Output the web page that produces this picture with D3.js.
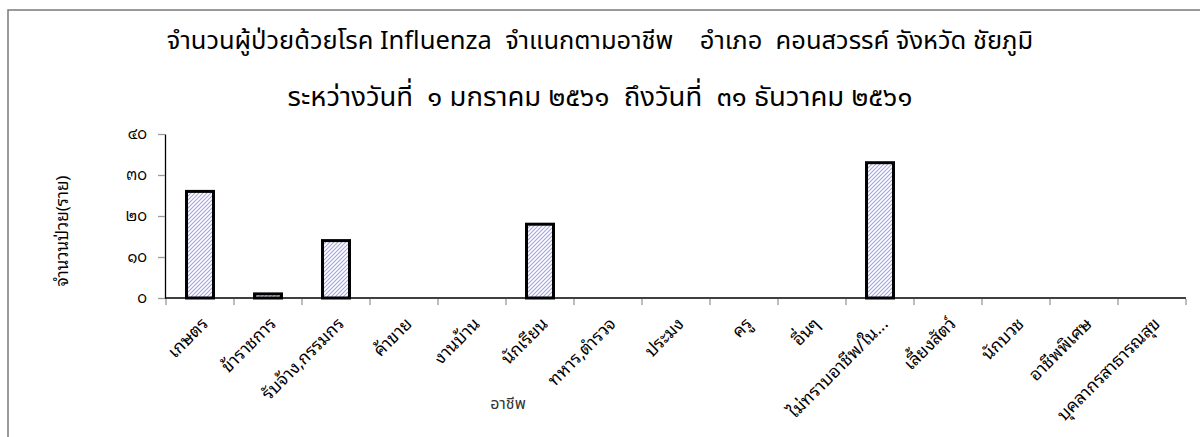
<!DOCTYPE html>
<html>
<head>
<meta charset="utf-8">
<script src="https://cdn.jsdelivr.net/npm/d3@7"></script>
<style>
  html, body { margin: 0; padding: 0; background: #fff; }
  svg { display: block; font-family: "Noto Sans Thai", "Noto Sans Thai UI", "Noto Sans", sans-serif; font-weight: 400; }
  .looped { font-family: "Noto Sans Thai Looped", Tahoma, sans-serif; }
</style>
</head>
<body>
<svg id="chart" width="1200" height="437"></svg>
<script>
// Occupations (x categories)
const categories = [
  "เกษตร", "ข้าราชการ", "รับจ้าง,กรรมกร", "ค้าขาย", "งานบ้าน",
  "นักเรียน", "ทหาร,ตำรวจ", "ประมง", "ครู", "อื่นๆ",
  "ไม่ทราบอาชีพ/ใน...", "เลี้ยงสัตว์", "นักบวช", "อาชีพพิเศษ", "บุคลากรสาธารณสุข"
];
// Number of patients per occupation
const patients = [26, 1, 14, 0, 0, 18, 0, 0, 0, 0, 33, 0, 0, 0, 0];
// Y tick values and their Thai-numeral labels
const yTicks = [0, 10, 20, 30, 40];
const yTickLabels = ["๐", "๑๐", "๒๐", "๓๐", "๔๐"];

const titleLines = [
  "จำนวนผู้ป่วยด้วยโรค Influenza  จำแนกตามอาชีพ    อำเภอ  คอนสวรรค์ จังหวัด ชัยภูมิ",
  "ระหว่างวันที่  ๑ มกราคม ๒๕๖๑  ถึงวันที่  ๓๑ ธันวาคม ๒๕๖๑"
];
const titleSizes = [25.5, 27.5];
const yTitle = "จำนวนป่วย(ราย)";
const xTitle = "อาชีพ";

const svg = d3.select("#chart");

// outer frame (extends past the visible area on the right and bottom)
svg.append("rect")
  .attr("x", 8).attr("y", 10)
  .attr("width", 1300).attr("height", 500)
  .attr("fill", "none").attr("stroke", "#7a7a7a").attr("stroke-width", 1.5);

// hatch fill for bars
const defs = svg.append("defs");
const pat = defs.append("pattern")
  .attr("id", "hatch").attr("patternUnits", "userSpaceOnUse")
  .attr("width", 4).attr("height", 4);
pat.append("rect").attr("width", 4).attr("height", 4).attr("fill", "#fff");
pat.append("path")
  .attr("d", "M-1,1 l2,-2 M0,4 l4,-4 M3,5 l2,-2")
  .attr("stroke", "#a4a4e6").attr("stroke-width", 1.1);

const plot = { left: 166, right: 1186, top: 134, bottom: 298 };

const x = d3.scaleBand()
  .domain(categories)
  .range([plot.left, plot.right])
  .paddingInner(0).paddingOuter(0);

const y = d3.scaleLinear().domain([0, 40]).range([plot.bottom, plot.top]);

// bars
const barW = 27;
svg.append("g").selectAll("rect")
  .data(categories.map((c, i) => ({ c, v: patients[i] })).filter(d => d.v > 0))
  .join("rect")
  .attr("x", d => x(d.c) + x.bandwidth() / 2 - barW / 2)
  .attr("y", d => y(d.v))
  .attr("width", barW)
  .attr("height", d => y(0) - y(d.v))
  .attr("fill", "url(#hatch)")
  .attr("stroke", "#000")
  .attr("stroke-width", 3);

// y axis
const yAxis = svg.append("g")
  .attr("class", "looped")
  .attr("transform", `translate(${plot.left - 1},0)`)
  .call(d3.axisLeft(y).tickValues(yTicks)
    .tickFormat((d, i) => yTickLabels[i]).tickSizeInner(7).tickSizeOuter(0).tickPadding(11));
yAxis.attr("font-family", null);
yAxis.select(".domain").attr("stroke", "#000").attr("stroke-width", 1.3);
yAxis.selectAll(".tick line").attr("stroke", "#999").attr("stroke-width", 1.3);
yAxis.selectAll(".tick text").attr("font-size", 15).attr("fill", "#000");

// x axis line
svg.append("line")
  .attr("x1", plot.left - 1).attr("x2", plot.right)
  .attr("y1", y(0)).attr("y2", y(0))
  .attr("stroke", "#000").attr("stroke-width", 1.5);

// x ticks at band boundaries
const bounds = categories.map(c => x(c)).concat([x(categories[categories.length - 1]) + x.bandwidth()]);
svg.append("g").selectAll("line")
  .data(bounds)
  .join("line")
  .attr("x1", d => d).attr("x2", d => d)
  .attr("y1", y(0) + 1).attr("y2", y(0) + 7)
  .attr("stroke", "#999").attr("stroke-width", 1.3);

// x category labels, rotated
svg.append("g").attr("class", "looped").selectAll("text")
  .data(categories)
  .join("text")
  .attr("transform", c => `translate(${x(c) + x.bandwidth() / 2 + 9},${y(0) + 27}) rotate(-45)`)
  .attr("text-anchor", "end")
  .attr("font-size", 17.5)
  .attr("fill", "#000")
  .text(c => c);

// titles
svg.append("g").selectAll("text")
  .data(titleLines)
  .join("text")
  .attr("x", 600)
  .attr("y", (d, i) => 49 + i * 57)
  .attr("text-anchor", "middle")
  .attr("font-size", (d, i) => titleSizes[i])
  .attr("fill", "#000")
  .attr("xml:space", "preserve")
  .style("white-space", "pre")
  .text(d => d);

// axis titles
svg.append("text")
  .attr("class", "looped")
  .attr("transform", `translate(68,${(plot.top + plot.bottom) / 2 + 15}) rotate(-90)`)
  .attr("text-anchor", "middle")
  .attr("font-size", 17)
  .attr("fill", "#000")
  .text(yTitle);

svg.append("text")
  .attr("x", 508).attr("y", 409)
  .attr("text-anchor", "middle")
  .attr("font-size", 16)
  .attr("fill", "#333")
  .text(xTitle);
</script>
</body>
</html>
